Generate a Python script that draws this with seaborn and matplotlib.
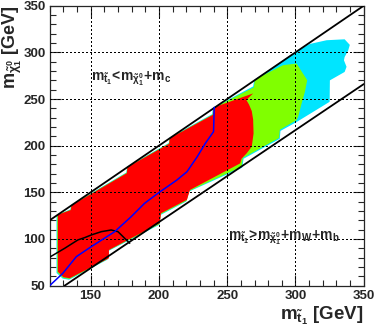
import matplotlib
matplotlib.use("Agg")
import matplotlib.pyplot as plt
import seaborn as sns
from matplotlib.ticker import MultipleLocator

# kinematic limits
upper_x = [120, 350]
upper_y = [120, 350]
lower_x = [131, 350]
lower_y = [50, 266]

# excluded regions, outermost first
cyan_x = [125, 135.2, 135.7, 176.2, 176.7, 207.2, 207.7, 239, 239.5, 269, 269.8, 302, 310.5, 322.8,
          336, 339.8, 338.6, 336, 335.5, 337.4, 336, 330, 325.2, 325, 301, 289, 288.5, 262, 261,
          222, 220, 201.2, 200.5, 162.6, 162.3, 134.2, 129.5, 125]
cyan_y = [125.5, 131.8, 136.5, 171.3, 177.5, 202.8, 208.5, 233.8, 240.5, 263.5, 270.5, 302.5, 309, 313,
          314, 308, 302, 295, 291.5, 284.5, 279, 274, 270, 247, 225.5, 215.8, 207.3, 186, 176.5,
          150.8, 140.2, 125.7, 115.3, 86.8, 77.8, 56.3, 57.5, 63.5]

green_x = [125.5, 135.3, 135.8, 176.3, 176.8, 207.3, 207.8, 239.3, 239.8, 246, 269.5, 270.3, 291, 300.8,
           308.6, 306.9, 304.5, 302, 300.8, 288.5, 288, 261.5, 260.5, 222.3, 220.3, 201.3, 200.5,
           163, 162.7, 134.4, 129.7, 125.5]
green_y = [126, 131.2, 136, 170.8, 177, 202.3, 208, 233.3, 240, 245, 262.5, 271, 286.3, 288,
           270.2, 257.7, 245.3, 231, 227.4, 217, 208.3, 186.8, 177.3, 151.6, 141, 126.5, 116,
           87.6, 78.6, 57.1, 58.3, 64.3]

red_x = [126, 135.5, 136, 176.5, 177, 207.5, 208, 239.5, 240, 244, 269, 264, 266, 268, 269, 269.3,
         268, 264.2, 260.5, 259.5, 222.7, 220.5, 201.5, 200.7, 163.4, 163.4, 134.6, 130, 126]
red_y = [126, 131, 136, 170.5, 177, 202, 208, 233, 240, 243, 256, 249, 244, 237, 228, 213,
         199, 191.7, 186, 181, 152.5, 142, 127.5, 117, 88.2, 79.3, 57.9, 59, 65]

# expected limit (blue) and observed contour (black)
blue_x = [120, 129.7, 139.5, 150.5, 167.6, 179.7, 189.5, 199.3, 213, 220.5, 228, 234, 240, 240.5]
blue_y = [50, 63.3, 81, 91.8, 107.8, 123.9, 138.2, 149, 163, 172, 188, 202.5, 215, 241]
black_x = [120, 131, 140.7, 145.6, 150.5, 157.8, 165, 170, 173.7, 178.6]
black_y = [80.5, 90, 99, 101.4, 104.3, 107.8, 109.6, 107.8, 102.5, 95.4]

sns.set_style("ticks")
plt.rcParams['font.family'] = ['Liberation Sans', 'DejaVu Sans']
plt.rcParams['font.weight'] = 'bold'
plt.rcParams['mathtext.fontset'] = 'custom'
plt.rcParams['mathtext.rm'] = 'Liberation Sans:bold'
plt.rcParams['mathtext.it'] = 'Liberation Sans:bold'
plt.rcParams['mathtext.bf'] = 'Liberation Sans:bold'

fig = plt.figure(figsize=(3.75, 3.36), dpi=100)
ax = fig.add_axes([0.1325, 0.150, 0.8375, 0.833])

ax.fill(cyan_x, cyan_y, color='#00e5ff', lw=0, zorder=1)
ax.fill(green_x, green_y, color='#80ff00', lw=0, zorder=2)
ax.fill(red_x, red_y, color='#ff0000', lw=0, zorder=3)

sns.lineplot(x=upper_x, y=upper_y, color='black', lw=1.3, ax=ax, zorder=5)
sns.lineplot(x=lower_x, y=lower_y, color='black', lw=1.3, ax=ax, zorder=5)
sns.lineplot(x=black_x, y=black_y, color='black', lw=1.1, sort=False, estimator=None, ax=ax, zorder=5)
sns.lineplot(x=blue_x, y=blue_y, color='#0000ff', lw=1.1, sort=False, estimator=None, ax=ax, zorder=6)

ax.set_xlim(120, 350)
ax.set_ylim(50, 350)
ax.xaxis.set_major_locator(MultipleLocator(50))
ax.xaxis.set_minor_locator(MultipleLocator(10))
ax.yaxis.set_major_locator(MultipleLocator(50))
ax.yaxis.set_minor_locator(MultipleLocator(10))
ax.tick_params(which='both', direction='in', top=True, right=True, width=0.8,
               labelsize=9.5, pad=3)
ax.tick_params(which='major', length=8)
ax.tick_params(which='minor', length=4.5)
for lab in ax.get_xticklabels() + ax.get_yticklabels():
    lab.set_fontweight('bold')

# dotted grid on top of the filled areas, at the major ticks
for xv in ax.get_xticks():
    if 120 < xv < 350:
        ax.axvline(xv, color='black', ls=(0, (1.5, 2.2)), lw=0.75, zorder=4,
                   antialiased=False)
for yv in ax.get_yticks():
    if 50 < yv < 350:
        ax.axhline(yv, color='black', ls=(0, (1.5, 2.2)), lw=0.75, zorder=4,
                   antialiased=False)
for s in ax.spines.values():
    s.set_linewidth(0.9)

ax.set_xlabel(r'$\mathbf{m_{\tilde{t}_{1}}}$ [GeV]', fontsize=13.5, fontweight='bold',
              loc='right', labelpad=2.5)
ax.set_ylabel(r'$\mathbf{m_{\tilde{\chi}^{0}_{1}}}$ [GeV]', fontsize=13, fontweight='bold',
              loc='top')
ax.yaxis.set_label_coords(-0.082, 1.0)

ax.text(150, 270, r'$\mathbf{m_{\tilde{t}_{1}}\!<\!m_{\tilde{\chi}^{0}_{1}}\!+\!m_{c}}$',
        fontsize=10, va='baseline', ha='left', zorder=7)
ax.text(250.5, 99, r'$\mathbf{m_{\tilde{t}_{1}}\!>\!m_{\tilde{\chi}^{0}_{1}}\!+\!m_{W}\!+\!m_{b}}$',
        fontsize=10, va='baseline', ha='left', zorder=7)

fig.savefig('out.png', dpi=100)
